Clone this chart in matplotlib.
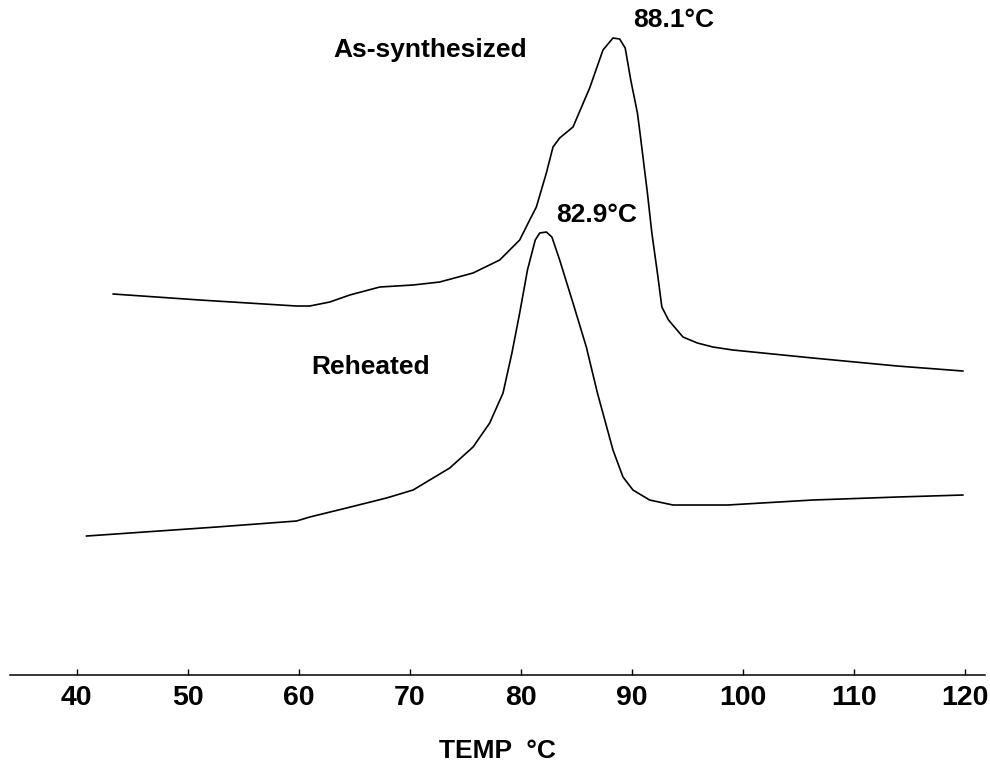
import matplotlib.pyplot as plt

plt.rcParams['font.family'] = ['Liberation Sans', 'DejaVu Sans']

# Curva tal como se sintetizo (temperatura, senal arbitraria)
temp_sint = [43.3, 51.1, 59.8, 61.0, 62.8, 64.6, 67.3, 70.3, 72.7, 75.7, 78.1,
             79.9, 80.8, 81.4, 82.3, 82.9, 83.5, 84.7, 86.2, 87.4, 88.3, 88.9,
             89.4, 89.9, 90.5, 90.7, 91.4, 91.8, 92.3, 92.7, 93.3, 94.6, 95.9,
             97.3, 99.1, 106.3, 113.9, 119.8]
senal_sint = [38.4, 37.8, 37.2, 37.2, 37.6, 38.3, 39.1, 39.3, 39.6, 40.5, 41.8,
              43.8, 45.8, 47.1, 50.5, 53.1, 54.0, 55.1, 59.0, 62.8, 64.0, 63.9,
              63.0, 59.8, 56.5, 54.8, 48.5, 44.5, 40.5, 37.1, 35.8, 34.1, 33.5,
              33.1, 32.8, 32.0, 31.2, 30.7]

# Curva recalentada
temp_rec = [40.9, 52.6, 59.8, 61.0, 64.3, 67.9, 70.3, 73.6, 75.7, 77.2, 78.4,
            79.2, 79.9, 80.6, 81.3, 81.7, 82.3, 82.8, 83.5, 84.7, 85.9, 86.9,
            88.3, 89.2, 90.1, 91.6, 93.7, 98.6, 106.3, 113.9, 119.8]
senal_rec = [14.2, 15.1, 15.7, 16.1, 17.0, 18.0, 18.8, 21.0, 23.1, 25.5, 28.5,
             32.5, 36.5, 40.8, 43.8, 44.5, 44.6, 44.1, 41.8, 37.5, 33.1, 28.5,
             22.8, 20.1, 18.8, 17.8, 17.3, 17.3, 17.8, 18.1, 18.3]

ticks = [40, 50, 60, 70, 80, 90, 100, 110, 120]

fig = plt.figure(figsize=(9.9, 7.63), dpi=100)
ax = fig.add_axes([0.010, 0.1153, 0.985, 0.8847])

ax.plot(temp_sint, senal_sint, color='black', lw=1.2, solid_joinstyle='round')
ax.plot(temp_rec, senal_rec, color='black', lw=1.2, solid_joinstyle='round')

txt = dict(fontsize=19, fontweight='bold', ha='left', va='center')
ax.text(63.1, 62.8, "As-synthesized", **txt)
ax.text(90.1, 65.8, "88.1°C", **txt)
ax.text(83.2, 46.3, "82.9°C", **txt)
ax.text(61.1, 31.1, "Reheated", **txt)

ax.set_xlim(34.0, 121.8)
ax.set_ylim(0.3, 67.8)
ax.set_xticks(ticks)
ax.set_xticklabels([str(t) for t in ticks], fontsize=20.5, fontweight='bold')
ax.tick_params(axis='x', direction='in', length=4.5, width=1, pad=7)
ax.set_yticks([])
for lado in ['top', 'left', 'right']:
    ax.spines[lado].set_visible(False)
ax.spines['bottom'].set_linewidth(1.1)
ax.set_xlabel("TEMP  °C", fontsize=19, fontweight='bold', labelpad=20)

plt.savefig("out.png", dpi=100)
